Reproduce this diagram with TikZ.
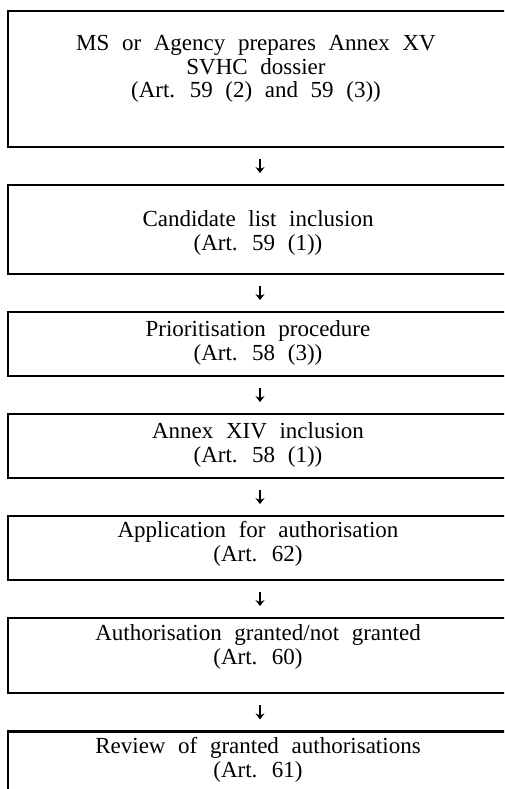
\documentclass[tikz,border=0pt]{standalone}
\usepackage{fontspec}
\setmainfont{Liberation Serif}[WordSpace=2.2]
\usetikzlibrary{arrows.meta,calc}
\begin{document}
\begin{tikzpicture}[x=1pt,y=-1pt,
  box/.style={draw, line width=2.6pt, minimum width=504pt, inner sep=0pt},
  lbl/.style={align=center, font=\fontsize{23}{23.5}\selectfont, inner sep=0pt},
  arr/.style={-{Stealth[length=6pt,width=9pt]}, line width=1.6pt}]
\useasboundingbox (0,0) rectangle (504,789);
\clip (0,0) rectangle (504,789);
% boxes
\node[box, minimum height=136pt] (b1) at (260,79) {};
\node[box, minimum height=89pt]  (b2) at (260,229.5) {};
\node[box, minimum height=64pt]  (b3) at (260,344) {};
\node[box, minimum height=64pt]  (b4) at (260,446) {};
\node[box, minimum height=64pt]  (b5) at (260,548) {};
\node[box, minimum height=75pt]  (b6) at (260,655.5) {};
\node[box, minimum height=100pt] (b7) at (260,781.5) {};
% labels
\node[lbl] (t1) at (256,69) {MS or Agency prepares Annex XV\\SVHC dossier\\(Art. 59 (2) and 59 (3))};
\node[lbl] (t2) at (258,233) {Candidate list inclusion\\(Art. 59 (1))};
\node[lbl] (t3) at (258,343) {Prioritisation procedure\\(Art. 58 (3))};
\node[lbl] (t4) at (258,445) {Annex XIV inclusion\\(Art. 58 (1))};
\node[lbl] (t5) at (258,544) {Application for authorisation\\(Art. 62)};
\node[lbl] (t6) at (258,647) {Authorisation granted/not granted\\(Art. 60)};
\node[lbl] (t7) at (258,760) {Review of granted authorisations\\(Art. 61)};
% arrows
\foreach \a/\b in {b1/b2,b2/b3,b3/b4,b4/b5,b5/b6,b6/b7}
  \draw[arr] ($(\a.south)!0.3!(\b.north)$) -- ($(\a.south)!0.7!(\b.north)$);
\end{tikzpicture}
\end{document}
